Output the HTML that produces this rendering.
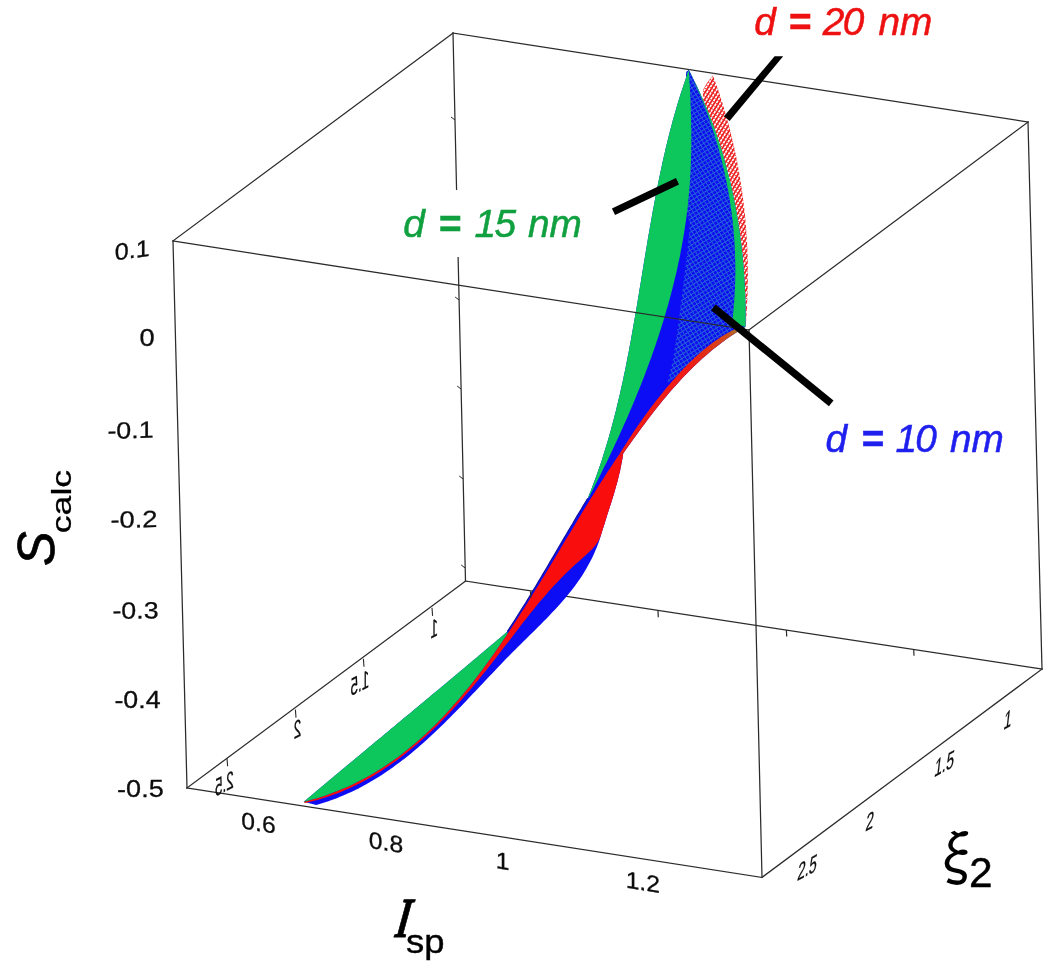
<!DOCTYPE html>
<html lang="en">
<head>
<meta charset="utf-8">
<title>S_calc vs I_sp and xi_2</title>
<style>html,body{margin:0;padding:0;background:#fff}svg{display:block}</style>
</head>
<body>
<svg width="1050" height="968" viewBox="0 0 1050 968" role="img" aria-label="3D plot of S calc versus I sp and xi 2">
<defs>
<pattern id="hb" width="3.8" height="3.8" patternUnits="userSpaceOnUse" patternTransform="rotate(-32)">
<rect width="3.8" height="3.8" fill="#0a0af0"/>
<rect width="3.8" height="0.95" fill="#2a66d6"/>
<rect width="0.95" height="3.8" fill="#2660da"/>
</pattern>
<pattern id="hr" width="3.4" height="3.4" patternUnits="userSpaceOnUse" patternTransform="rotate(32)">
<rect width="3.4" height="3.4" fill="#fff"/>
<rect width="1.7" height="3.4" fill="#ec1c1c"/>
<rect width="3.4" height="0.9" fill="#ee3a3a"/>
</pattern>
<linearGradient id="band" gradientUnits="userSpaceOnUse" x1="746" y1="327" x2="690" y2="372">
<stop offset="0" stop-color="#8f8a2c"/><stop offset="0.3" stop-color="#d2481c"/><stop offset="1" stop-color="#f01a12"/>
</linearGradient>
<filter id="soft" x="-5%" y="-5%" width="110%" height="110%"><feGaussianBlur stdDeviation="0.45"/></filter>
</defs>
<rect width="1050" height="968" fill="#fff"/>
<g fill="none" stroke-linecap="square">
<line x1="453.0" y1="33.0" x2="465.5" y2="581.0" stroke="#2b2b2b" stroke-width="1.25" />
<line x1="465.5" y1="581.0" x2="1042.0" y2="669.0" stroke="#2b2b2b" stroke-width="1.25" />
<line x1="187.0" y1="788.0" x2="465.5" y2="581.0" stroke="#2b2b2b" stroke-width="1.25" />
</g>
<g filter="url(#soft)">
<polygon points="712.9,75.2 714.3,79.0 715.7,82.9 717.1,86.7 718.4,90.6 719.7,94.5 720.9,98.4 722.2,102.3 723.4,106.2 724.6,110.1 725.7,114.0 726.8,118.0 727.9,121.9 729.0,125.9 730.0,129.8 731.0,133.8 732.0,137.8 732.9,141.8 733.8,145.8 734.7,149.8 735.5,153.8 736.4,157.8 737.2,161.8 737.9,165.8 738.7,169.9 739.4,173.9 740.1,178.0 740.7,182.0 741.3,186.1 741.9,190.1 742.5,194.2 743.0,198.2 743.5,202.3 744.0,206.4 744.5,210.5 744.9,214.5 745.3,218.6 745.6,222.7 746.0,226.8 746.3,230.9 746.6,235.0 746.8,239.1 747.1,243.2 747.3,247.3 747.4,251.4 747.6,255.5 747.7,259.5 747.8,263.6 747.8,267.7 747.9,271.8 747.9,275.9 747.8,280.0 747.8,284.1 747.7,288.2 747.6,292.3 747.5,296.4 747.3,300.5 747.1,304.6 746.9,308.7 746.7,312.8 746.4,316.8 746.1,320.9 745.8,325.0 745.5,327.0 745.5,322.9 745.6,318.8 745.6,314.8 745.5,310.7 745.5,306.6 745.4,302.5 745.3,298.4 745.2,294.3 745.0,290.2 744.8,286.1 744.6,282.1 744.3,278.0 744.1,273.9 743.8,269.8 743.4,265.7 743.1,261.6 742.7,257.6 742.3,253.5 741.8,249.4 741.4,245.3 740.9,241.3 740.3,237.2 739.8,233.1 739.2,229.1 738.6,225.0 738.0,221.0 737.3,216.9 736.6,212.9 735.9,208.9 735.1,204.8 734.3,200.8 733.5,196.8 732.6,192.8 731.8,188.8 730.8,184.8 729.9,180.8 728.9,176.9 727.9,172.9 726.9,168.9 725.8,165.0 724.7,161.0 723.6,157.1 722.5,153.2 721.3,149.3 720.1,145.4 718.8,141.5 717.5,137.6 716.2,133.7 714.9,129.9 713.5,126.0 712.1,122.2 710.6,118.4 709.1,114.6 707.6,110.8 706.1,107.0 704.5,103.2 702.9,99.5 703.0,90.0 707.0,83.0" fill="url(#hr)" />
<polygon points="688.8,70.0 687.4,73.8 686.1,77.6 684.8,81.5 683.5,85.3 682.2,89.2 680.9,93.0 679.7,96.9 678.5,100.7 677.4,104.6 676.2,108.5 675.1,112.4 674.0,116.2 672.9,120.1 671.9,124.0 670.8,127.9 669.8,131.8 668.8,135.8 667.8,139.7 666.9,143.6 665.9,147.5 665.0,151.5 664.1,155.4 663.2,159.3 662.3,163.3 661.5,167.2 660.6,171.2 659.8,175.2 659.0,179.1 658.2,183.1 657.4,187.0 656.6,191.0 655.8,195.0 655.1,199.0 654.3,202.9 653.6,206.9 652.8,210.9 652.1,214.9 651.4,218.9 650.7,222.9 650.0,226.9 649.3,230.9 648.6,234.8 647.9,238.8 647.3,242.8 646.6,246.8 645.9,250.8 645.3,254.8 644.6,258.8 643.9,262.8 643.3,266.8 642.6,270.8 642.0,274.8 641.3,278.8 640.7,282.8 640.0,286.8 639.3,290.8 638.7,294.8 638.0,298.8 637.4,302.8 636.7,306.8 636.0,310.8 635.3,314.8 634.6,318.8 633.9,322.8 633.2,326.8 632.5,330.8 631.8,334.8 631.1,338.8 630.4,342.7 629.6,346.7 628.9,350.7 628.1,354.7 627.3,358.6 626.6,362.6 625.8,366.6 625.0,370.5 624.1,374.5 623.3,378.4 622.5,382.4 621.6,386.3 620.7,390.3 619.8,394.2 618.9,398.1 618.0,402.1 617.0,406.0 616.1,409.9 615.1,413.8 614.1,417.7 613.1,421.6 612.0,425.5 611.0,429.4 609.9,433.3 608.8,437.2 607.7,441.1 606.5,444.9 605.3,448.8 604.1,452.7 602.9,456.5 601.7,460.4 600.4,464.2 599.1,468.0 597.8,471.8 596.4,475.7 595.0,479.5 593.6,483.3 592.2,487.1 590.7,490.9 589.2,494.6 587.7,498.4 585.5,502.0 583.3,505.6 581.2,509.2 579.0,512.8 576.8,516.4 574.7,520.0 572.6,523.7 570.4,527.3 568.3,530.9 566.2,534.5 564.0,538.1 561.9,541.8 559.8,545.4 557.6,549.0 555.5,552.7 553.4,556.3 551.3,559.9 549.1,563.5 547.0,567.2 544.9,570.8 542.7,574.4 540.6,578.0 538.4,581.6 536.3,585.2 534.1,588.8 531.9,592.4 529.8,596.0 527.6,599.6 525.4,603.2 523.1,606.8 520.9,610.4 518.7,613.9 516.4,617.5 514.2,621.0 511.9,624.6 509.6,628.1 507.3,631.6 504.2,634.2 501.1,636.9 498.0,639.5 494.9,642.2 491.7,644.8 488.6,647.4 485.5,650.1 482.4,652.7 479.3,655.3 476.2,657.9 473.0,660.6 469.9,663.2 466.8,665.8 463.7,668.4 460.5,671.1 457.4,673.7 454.3,676.3 451.1,678.9 448.0,681.5 444.9,684.2 441.7,686.8 438.6,689.4 435.5,692.0 432.3,694.6 429.2,697.2 426.1,699.8 422.9,702.5 419.8,705.1 416.6,707.7 413.5,710.3 410.4,712.9 407.2,715.5 404.1,718.1 400.9,720.7 397.8,723.3 394.7,726.0 391.5,728.6 388.4,731.2 385.2,733.8 382.1,736.4 379.0,739.0 375.8,741.6 372.7,744.2 369.5,746.8 366.4,749.4 363.3,752.1 360.1,754.7 357.0,757.3 353.8,759.9 350.7,762.5 347.6,765.1 344.4,767.7 341.3,770.3 338.2,773.0 335.0,775.6 331.9,778.2 328.7,780.8 325.6,783.4 322.5,786.1 319.3,788.7 316.2,791.3 313.1,793.9 310.0,796.5 306.8,799.2 303.7,801.8 316.3,805.0 316.3,805.0 320.4,803.8 324.4,802.5 328.4,801.2 332.3,799.8 336.2,798.4 340.0,796.8 343.8,795.3 347.6,793.6 351.3,791.9 354.9,790.2 358.5,788.4 362.1,786.5 365.7,784.6 369.2,782.6 372.6,780.6 376.0,778.5 379.4,776.4 382.8,774.2 386.1,772.0 389.4,769.8 392.7,767.5 395.9,765.1 399.1,762.7 402.3,760.3 405.4,757.9 408.5,755.4 411.6,752.9 414.7,750.3 417.8,747.7 420.8,745.1 423.8,742.4 426.8,739.8 429.7,737.0 432.7,734.3 435.6,731.6 438.5,728.8 441.4,726.0 444.3,723.2 447.2,720.3 450.0,717.5 452.9,714.6 455.7,711.7 458.6,708.8 461.4,705.9 464.2,703.0 467.0,700.0 469.8,697.1 472.6,694.1 475.4,691.2 478.2,688.2 481.0,685.2 483.8,682.3 486.6,679.3 489.4,676.3 492.2,673.4 495.0,670.4 497.8,667.5 500.7,664.5 503.5,661.6 506.3,658.6 509.2,655.7 512.0,652.8 514.9,649.9 517.8,647.0 520.7,644.2 523.6,641.3 526.5,638.4 529.4,635.6 532.3,632.7 535.1,629.9 538.0,627.0 540.9,624.2 543.7,621.3 546.6,618.4 549.4,615.5 552.1,612.6 554.9,609.7 557.6,606.7 560.3,603.7 562.9,600.7 565.5,597.7 568.1,594.6 570.6,591.5 573.0,588.4 575.4,585.2 577.7,582.0 580.0,578.7 582.2,575.4 584.3,572.0 586.4,568.6 588.3,565.1 590.2,561.6 592.1,558.0 593.8,554.3 595.4,550.6 597.0,546.8 598.4,543.0 599.8,539.0 601.0,535.0 601.0,535.0 602.2,531.0 603.5,526.9 604.8,522.9 606.0,518.9 607.3,514.8 608.6,510.8 609.9,506.8 611.2,502.7 612.4,498.7 613.7,494.7 614.9,490.6 616.0,486.6 617.2,482.5 618.2,478.4 619.2,474.3 620.2,470.2 621.0,466.0 621.8,461.9 622.6,457.7 623.2,453.5 623.2,453.5 625.6,450.1 627.9,446.8 630.3,443.4 632.7,440.1 635.1,436.7 637.5,433.4 640.0,430.0 642.4,426.7 644.9,423.4 647.4,420.1 649.9,416.8 652.4,413.5 654.9,410.3 657.5,407.0 660.1,403.8 662.7,400.6 665.3,397.4 668.0,394.2 670.7,391.1 673.4,388.0 676.2,384.9 678.9,381.9 681.7,378.8 684.6,375.8 687.4,372.9 690.3,370.0 693.3,367.1 696.2,364.2 699.2,361.4 702.3,358.6 705.4,355.9 708.5,353.2 711.6,350.6 714.8,348.0 718.1,345.5 721.3,343.0 724.6,340.5 728.0,338.1 731.4,335.8 734.9,333.5 738.4,331.3 741.9,329.1 745.5,327.0 745.5,327.0 745.5,322.9 745.6,318.8 745.6,314.8 745.5,310.7 745.5,306.6 745.4,302.5 745.3,298.4 745.2,294.3 745.0,290.2 744.8,286.1 744.6,282.1 744.3,278.0 744.1,273.9 743.8,269.8 743.4,265.7 743.1,261.6 742.7,257.6 742.3,253.5 741.8,249.4 741.4,245.3 740.9,241.3 740.3,237.2 739.8,233.1 739.2,229.1 738.6,225.0 738.0,221.0 737.3,216.9 736.6,212.9 735.9,208.9 735.1,204.8 734.3,200.8 733.5,196.8 732.6,192.8 731.8,188.8 730.8,184.8 729.9,180.8 728.9,176.9 727.9,172.9 726.9,168.9 725.8,165.0 724.7,161.0 723.6,157.1 722.5,153.2 721.3,149.3 720.1,145.4 718.8,141.5 717.5,137.6 716.2,133.7 714.9,129.9 713.5,126.0 712.1,122.2 710.6,118.4 709.1,114.6 707.6,110.8 706.1,107.0 704.5,103.2 702.9,99.5 701.2,95.8 699.6,92.0 697.9,88.3 696.1,84.6 694.3,80.9 692.5,77.3 690.7,73.6 688.8,70.0" fill="#0a0af5" />
<polygon points="686.0,72.0 686.0,130.0 686.0,180.0 687.0,215.0 690.0,222.0 687.5,250.0 684.4,275.0 680.5,306.0 676.5,337.0 672.5,362.0 667.0,384.0 684.0,369.5 697.0,356.0 710.0,343.5 722.0,336.0 735.0,329.0 732.0,323.0 732.5,318.9 732.9,314.9 733.4,310.8 733.7,306.8 734.1,302.7 734.3,298.6 734.6,294.6 734.8,290.5 735.0,286.4 735.1,282.4 735.2,278.3 735.3,274.2 735.3,270.2 735.3,266.1 735.2,262.0 735.1,258.0 735.0,253.9 734.8,249.9 734.6,245.8 734.4,241.8 734.1,237.7 733.8,233.7 733.4,229.6 733.0,225.6 732.6,221.5 732.2,217.5 731.7,213.5 731.1,209.4 730.5,205.4 729.9,201.4 729.3,197.4 728.6,193.4 727.9,189.4 727.1,185.4 726.4,181.4 725.5,177.4 724.7,173.5 723.8,169.5 722.9,165.5 721.9,161.6 720.9,157.7 719.9,153.7 718.8,149.8 717.7,145.9 716.6,142.0 715.4,138.1 714.2,134.2 713.0,130.3 711.7,126.5 710.4,122.6 709.1,118.8 707.7,115.0 706.3,111.1 704.9,107.3 703.4,103.5 701.9,99.8 700.4,96.0 698.8,92.2 697.2,88.5 695.6,84.8 694.0,81.1 692.3,77.4 690.5,73.7 688.8,70.0" fill="url(#hb)" />
<polygon points="688.8,70.0 687.4,73.8 686.1,77.6 684.8,81.5 683.5,85.3 682.2,89.2 680.9,93.0 679.7,96.9 678.5,100.7 677.4,104.6 676.2,108.5 675.1,112.4 674.0,116.2 672.9,120.1 671.9,124.0 670.8,127.9 669.8,131.8 668.8,135.8 667.8,139.7 666.9,143.6 665.9,147.5 665.0,151.5 664.1,155.4 663.2,159.3 662.3,163.3 661.5,167.2 660.6,171.2 659.8,175.2 659.0,179.1 658.2,183.1 657.4,187.0 656.6,191.0 655.8,195.0 655.1,199.0 654.3,202.9 653.6,206.9 652.8,210.9 652.1,214.9 651.4,218.9 650.7,222.9 650.0,226.9 649.3,230.9 648.6,234.8 647.9,238.8 647.3,242.8 646.6,246.8 645.9,250.8 645.3,254.8 644.6,258.8 643.9,262.8 643.3,266.8 642.6,270.8 642.0,274.8 641.3,278.8 640.7,282.8 640.0,286.8 639.3,290.8 638.7,294.8 638.0,298.8 637.4,302.8 636.7,306.8 636.0,310.8 635.3,314.8 634.6,318.8 633.9,322.8 633.2,326.8 632.5,330.8 631.8,334.8 631.1,338.8 630.4,342.7 629.6,346.7 628.9,350.7 628.1,354.7 627.3,358.6 626.6,362.6 625.8,366.6 625.0,370.5 624.1,374.5 623.3,378.4 622.5,382.4 621.6,386.3 620.7,390.3 619.8,394.2 618.9,398.1 618.0,402.1 617.0,406.0 616.1,409.9 615.1,413.8 614.1,417.7 613.1,421.6 612.0,425.5 611.0,429.4 609.9,433.3 608.8,437.2 607.7,441.1 606.5,444.9 605.3,448.8 604.1,452.7 602.9,456.5 601.7,460.4 600.4,464.2 599.1,468.0 597.8,471.8 596.4,475.7 595.0,479.5 593.6,483.3 592.2,487.1 590.7,490.9 589.2,494.6 587.7,498.4 589.2,496.9 591.0,493.3 592.9,489.8 594.7,486.2 596.5,482.6 598.3,479.0 600.1,475.4 601.9,471.7 603.7,468.1 605.5,464.5 607.3,460.9 609.0,457.2 610.8,453.6 612.5,449.9 614.2,446.2 615.9,442.6 617.6,438.9 619.3,435.2 621.0,431.5 622.7,427.8 624.3,424.1 626.0,420.4 627.6,416.7 629.2,413.0 630.8,409.2 632.4,405.5 634.0,401.8 635.5,398.0 637.0,394.3 638.6,390.5 640.1,386.7 641.6,382.9 643.1,379.2 644.5,375.4 646.0,371.6 647.4,367.8 648.8,364.0 650.2,360.2 651.6,356.4 652.9,352.5 654.3,348.7 655.6,344.9 656.9,341.0 658.2,337.2 659.4,333.3 660.7,329.5 661.9,325.6 663.1,321.7 664.3,317.9 665.4,314.0 666.5,310.1 667.7,306.2 668.8,302.3 669.8,298.4 670.9,294.5 671.9,290.6 672.9,286.7 673.9,282.8 674.8,278.8 675.8,274.9 676.7,271.0 677.6,267.0 678.4,263.1 679.3,259.1 680.1,255.2 680.8,251.2 681.6,247.3 682.3,243.3 683.0,239.3 683.7,235.3 684.3,231.4 684.9,227.4 685.5,223.4 686.1,219.4 686.6,215.4 687.1,211.4 687.6,207.4 688.0,203.4 688.4,199.4 688.8,195.4 689.2,191.3 689.5,187.3 689.8,183.3 690.1,179.3 690.3,175.2 690.5,171.2 690.7,167.2 690.9,163.1 691.0,159.1 691.1,155.1 691.2,151.0 691.3,147.0 691.3,142.9 691.3,138.9 691.3,134.8 691.3,130.8 691.2,126.7 691.2,122.7 691.1,118.6 691.0,114.6 690.8,110.5 690.7,106.5 690.5,102.4 690.4,98.4 690.2,94.3 690.0,90.3 689.8,86.2 689.5,82.1 689.3,78.1 689.1,74.0 688.8,70.0" fill="#0ac65c" />
<polygon points="688.8,70.0 690.5,73.7 692.3,77.4 694.0,81.1 695.6,84.8 697.2,88.5 698.8,92.2 700.4,96.0 701.9,99.8 703.4,103.5 704.9,107.3 706.3,111.1 707.7,115.0 709.1,118.8 710.4,122.6 711.7,126.5 713.0,130.3 714.2,134.2 715.4,138.1 716.6,142.0 717.7,145.9 718.8,149.8 719.9,153.7 720.9,157.7 721.9,161.6 722.9,165.5 723.8,169.5 724.7,173.5 725.5,177.4 726.4,181.4 727.1,185.4 727.9,189.4 728.6,193.4 729.3,197.4 729.9,201.4 730.5,205.4 731.1,209.4 731.7,213.5 732.2,217.5 732.6,221.5 733.0,225.6 733.4,229.6 733.8,233.7 734.1,237.7 734.4,241.8 734.6,245.8 734.8,249.9 735.0,253.9 735.1,258.0 735.2,262.0 735.3,266.1 735.3,270.2 735.3,274.2 735.2,278.3 735.1,282.4 735.0,286.4 734.8,290.5 734.6,294.6 734.3,298.6 734.1,302.7 733.7,306.8 733.4,310.8 732.9,314.9 732.5,318.9 732.0,323.0 745.5,327.0 745.5,322.9 745.6,318.8 745.6,314.8 745.5,310.7 745.5,306.6 745.4,302.5 745.3,298.4 745.2,294.3 745.0,290.2 744.8,286.1 744.6,282.1 744.3,278.0 744.1,273.9 743.8,269.8 743.4,265.7 743.1,261.6 742.7,257.6 742.3,253.5 741.8,249.4 741.4,245.3 740.9,241.3 740.3,237.2 739.8,233.1 739.2,229.1 738.6,225.0 738.0,221.0 737.3,216.9 736.6,212.9 735.9,208.9 735.1,204.8 734.3,200.8 733.5,196.8 732.6,192.8 731.8,188.8 730.8,184.8 729.9,180.8 728.9,176.9 727.9,172.9 726.9,168.9 725.8,165.0 724.7,161.0 723.6,157.1 722.5,153.2 721.3,149.3 720.1,145.4 718.8,141.5 717.5,137.6 716.2,133.7 714.9,129.9 713.5,126.0 712.1,122.2 710.6,118.4 709.1,114.6 707.6,110.8 706.1,107.0 704.5,103.2 702.9,99.5 701.2,95.8 699.6,92.0 697.9,88.3 696.1,84.6 694.3,80.9 692.5,77.3 690.7,73.6 688.8,70.0" fill="#0ac65c" />
<polygon points="745.5,327.0 741.9,329.1 738.4,331.3 734.9,333.5 731.4,335.8 728.0,338.1 724.6,340.5 721.3,343.0 718.1,345.5 714.8,348.0 711.6,350.6 708.5,353.2 705.4,355.9 702.3,358.6 699.2,361.4 696.2,364.2 693.3,367.1 690.3,370.0 687.4,372.9 684.6,375.8 681.7,378.8 678.9,381.9 676.2,384.9 673.4,388.0 670.7,391.1 668.0,394.2 665.3,397.4 662.7,400.6 660.1,403.8 657.5,407.0 654.9,410.3 652.4,413.5 649.9,416.8 647.4,420.1 644.9,423.4 642.4,426.7 640.0,430.0 637.5,433.4 635.1,436.7 632.7,440.1 630.3,443.4 627.9,446.8 625.6,450.1 623.2,453.5 618.8,455.0 621.0,451.5 623.2,448.0 625.5,444.5 627.7,441.0 630.0,437.5 632.2,434.0 634.5,430.6 636.8,427.2 639.1,423.8 641.5,420.4 643.9,417.1 646.3,413.7 648.7,410.4 651.2,407.1 653.6,403.9 656.2,400.6 658.7,397.4 661.3,394.2 663.9,391.0 666.5,387.8 669.2,384.7 671.9,381.5 674.6,378.4 677.4,375.3 680.2,372.3 683.0,369.2 685.9,366.3 688.8,363.3 691.8,360.4 694.8,357.6 697.9,354.8 701.0,352.0 704.1,349.4 707.3,346.8 710.6,344.2 713.9,341.8 717.3,339.4 720.7,337.1 724.2,335.0 727.7,332.9 731.3,330.9 735.0,329.0" fill="url(#band)" />
<polygon points="618.8,455.0 616.6,458.3 614.4,461.6 612.2,465.0 610.0,468.3 607.8,471.6 605.6,475.0 603.4,478.4 601.3,481.8 599.1,485.1 597.0,488.5 594.9,492.0 592.7,495.4 590.6,498.8 588.5,502.2 586.4,505.7 584.3,509.1 582.2,512.6 580.1,516.0 578.0,519.5 575.9,522.9 573.8,526.4 571.7,529.9 569.6,533.4 567.5,536.8 565.4,540.3 563.3,543.8 561.2,547.3 559.2,550.8 557.1,554.3 555.0,557.8 552.9,561.3 550.8,564.7 548.7,568.2 546.6,571.7 544.5,575.2 542.3,578.7 540.2,582.2 538.1,585.7 536.0,589.1 533.8,592.6 531.7,596.1 529.5,599.5 527.4,603.0 525.2,606.4 523.0,609.9 520.8,613.3 518.6,616.8 516.4,620.2 514.2,623.6 512.0,627.0 509.7,630.4 507.5,633.8 505.2,637.2 502.9,640.6 500.6,643.9 498.3,647.3 496.0,650.6 493.7,653.9 491.3,657.3 489.0,660.6 486.6,663.8 484.2,667.1 481.7,670.4 479.3,673.6 476.9,676.8 474.4,680.0 471.9,683.2 469.4,686.4 466.8,689.5 464.3,692.6 461.7,695.7 459.1,698.8 456.5,701.8 453.8,704.8 451.2,707.8 448.5,710.8 445.8,713.7 443.0,716.7 440.3,719.5 437.5,722.4 434.7,725.2 431.8,728.0 429.0,730.8 426.1,733.5 423.1,736.2 420.2,738.8 417.2,741.4 414.2,744.0 411.2,746.6 408.1,749.1 405.0,751.6 401.9,754.0 398.7,756.4 395.5,758.7 392.3,761.0 389.0,763.3 385.7,765.5 382.4,767.7 379.0,769.8 375.6,771.9 372.2,774.0 368.7,775.9 365.2,777.9 361.6,779.8 358.1,781.6 354.4,783.4 350.8,785.2 347.1,786.9 343.3,788.5 339.6,790.1 335.8,791.6 331.9,793.1 328.0,794.5 324.1,795.9 320.1,797.2 316.0,798.4 312.0,799.6 307.9,800.7 303.7,801.8 305.0,803.0 309.2,802.0 313.3,801.0 317.3,799.9 321.4,798.7 325.3,797.5 329.3,796.2 333.2,794.8 337.0,793.4 340.9,791.9 344.6,790.3 348.4,788.7 352.1,787.0 355.8,785.2 359.4,783.4 363.0,781.6 366.5,779.7 370.0,777.7 373.5,775.7 377.0,773.6 380.4,771.5 383.8,769.3 387.1,767.1 390.5,764.8 393.7,762.5 397.0,760.2 400.2,757.8 403.4,755.3 406.6,752.8 409.7,750.3 412.8,747.7 415.9,745.1 419.0,742.5 422.0,739.8 425.0,737.1 428.0,734.3 431.0,731.6 433.9,728.7 436.8,725.9 439.7,723.0 442.5,720.1 445.4,717.2 448.2,714.3 451.0,711.3 453.8,708.3 456.5,705.3 459.2,702.2 462.0,699.2 464.7,696.1 467.3,693.0 470.0,689.9 472.7,686.7 475.3,683.6 477.9,680.4 480.5,677.2 483.1,674.1 485.7,670.9 488.2,667.7 490.8,664.5 493.3,661.2 495.8,658.0 498.3,654.8 500.8,651.6 503.3,648.3 505.8,645.1 508.3,641.9 510.8,638.7 513.2,635.4 515.7,632.2 518.2,629.0 520.6,625.8 523.1,622.6 525.6,619.4 528.1,616.2 530.6,613.1 533.2,609.9 535.7,606.8 538.3,603.6 540.9,600.5 543.5,597.4 546.2,594.4 548.8,591.3 551.6,588.3 554.3,585.3 557.1,582.4 559.9,579.4 562.8,576.5 565.7,573.6 568.6,570.8 571.6,567.9 574.6,565.1 577.6,562.4 580.7,559.7 583.7,557.0 586.7,554.3 589.7,551.6 592.5,548.7 595.1,545.7 597.4,542.4 599.4,538.9 601.0,535.0 601.0,535.0 602.2,531.0 603.5,526.9 604.8,522.9 606.0,518.9 607.3,514.8 608.6,510.8 609.9,506.8 611.2,502.7 612.4,498.7 613.7,494.7 614.9,490.6 616.0,486.6 617.2,482.5 618.2,478.4 619.2,474.3 620.2,470.2 621.0,466.0 621.8,461.9 622.6,457.7 623.2,453.5" fill="#fa0a0a" />
<polygon points="507.3,631.6 504.2,634.2 501.1,636.9 498.0,639.5 494.9,642.2 491.7,644.8 488.6,647.4 485.5,650.1 482.4,652.7 479.3,655.3 476.2,657.9 473.0,660.6 469.9,663.2 466.8,665.8 463.7,668.4 460.5,671.1 457.4,673.7 454.3,676.3 451.1,678.9 448.0,681.5 444.9,684.2 441.7,686.8 438.6,689.4 435.5,692.0 432.3,694.6 429.2,697.2 426.1,699.8 422.9,702.5 419.8,705.1 416.6,707.7 413.5,710.3 410.4,712.9 407.2,715.5 404.1,718.1 400.9,720.7 397.8,723.3 394.7,726.0 391.5,728.6 388.4,731.2 385.2,733.8 382.1,736.4 379.0,739.0 375.8,741.6 372.7,744.2 369.5,746.8 366.4,749.4 363.3,752.1 360.1,754.7 357.0,757.3 353.8,759.9 350.7,762.5 347.6,765.1 344.4,767.7 341.3,770.3 338.2,773.0 335.0,775.6 331.9,778.2 328.7,780.8 325.6,783.4 322.5,786.1 319.3,788.7 316.2,791.3 313.1,793.9 310.0,796.5 306.8,799.2 303.7,801.8 303.7,801.8 307.9,800.7 312.0,799.6 316.0,798.4 320.1,797.2 324.1,795.9 328.0,794.5 331.9,793.1 335.8,791.6 339.6,790.1 343.3,788.5 347.1,786.9 350.8,785.2 354.4,783.4 358.1,781.6 361.6,779.8 365.2,777.9 368.7,775.9 372.2,774.0 375.6,771.9 379.0,769.8 382.4,767.7 385.7,765.5 389.0,763.3 392.3,761.0 395.5,758.7 398.7,756.4 401.9,754.0 405.0,751.6 408.1,749.1 411.2,746.6 414.2,744.0 417.2,741.4 420.2,738.8 423.1,736.2 426.1,733.5 429.0,730.8 431.8,728.0 434.7,725.2 437.5,722.4 440.3,719.5 443.0,716.7 445.8,713.7 448.5,710.8 451.2,707.8 453.8,704.8 456.5,701.8 459.1,698.8 461.7,695.7 464.3,692.6 466.8,689.5 469.4,686.4 471.9,683.2 474.4,680.0 476.9,676.8 479.3,673.6 481.7,670.4 484.2,667.1 486.6,663.8 489.0,660.6 491.3,657.3 493.7,653.9 496.0,650.6 498.3,647.3 500.6,643.9 502.9,640.6 505.2,637.2 507.5,633.8" fill="#0ac65c" />
<polyline points="587.7,498.4 585.5,502.0 583.3,505.6 581.2,509.2 579.0,512.8 576.8,516.4 574.7,520.0 572.6,523.7 570.4,527.3 568.3,530.9 566.2,534.5 564.0,538.1 561.9,541.8 559.8,545.4 557.6,549.0 555.5,552.7 553.4,556.3 551.3,559.9 549.1,563.5 547.0,567.2 544.9,570.8 542.7,574.4 540.6,578.0 538.4,581.6 536.3,585.2 534.1,588.8 531.9,592.4 529.8,596.0 527.6,599.6 525.4,603.2 523.1,606.8 520.9,610.4 518.7,613.9 516.4,617.5 514.2,621.0 511.9,624.6 509.6,628.1 507.3,631.6" fill="none" stroke="#0a0a9a" stroke-width="1.1"/>
</g>
<g fill="none" stroke-linecap="square">
<line x1="173.0" y1="241.0" x2="453.0" y2="33.0" stroke="#2b2b2b" stroke-width="1.25" />
<line x1="453.0" y1="33.0" x2="1028.0" y2="122.0" stroke="#2b2b2b" stroke-width="1.25" />
<line x1="1028.0" y1="122.0" x2="749.0" y2="330.0" stroke="#2b2b2b" stroke-width="1.25" />
<line x1="749.0" y1="330.0" x2="173.0" y2="241.0" stroke="#2b2b2b" stroke-width="1.25" />
<line x1="173.0" y1="241.0" x2="187.0" y2="788.0" stroke="#2b2b2b" stroke-width="1.25" />
<line x1="1028.0" y1="122.0" x2="1042.0" y2="669.0" stroke="#2b2b2b" stroke-width="1.25" />
<line x1="749.0" y1="330.0" x2="762.0" y2="877.4" stroke="#2b2b2b" stroke-width="1.25" />
<line x1="1042.0" y1="669.0" x2="762.0" y2="877.4" stroke="#2b2b2b" stroke-width="1.25" />
<line x1="762.0" y1="877.4" x2="187.0" y2="788.0" stroke="#2b2b2b" stroke-width="1.25" />
</g>
<g>
<line x1="530.5" y1="591.4" x2="530.8" y2="597.9" stroke="#2b2b2b" stroke-width="1.2" />
<line x1="658.0" y1="610.7" x2="658.3" y2="617.2" stroke="#2b2b2b" stroke-width="1.2" />
<line x1="786.4" y1="630.0" x2="786.7" y2="636.5" stroke="#2b2b2b" stroke-width="1.2" />
<line x1="913.7" y1="649.3" x2="914.0" y2="655.8" stroke="#2b2b2b" stroke-width="1.2" />
<line x1="227.0" y1="758.2" x2="227.6" y2="766.2" stroke="#2b2b2b" stroke-width="1.1" />
<line x1="295.4" y1="709.6" x2="296.0" y2="717.6" stroke="#2b2b2b" stroke-width="1.1" />
<line x1="363.4" y1="658.8" x2="364.0" y2="666.8" stroke="#2b2b2b" stroke-width="1.1" />
<line x1="432.0" y1="607.9" x2="432.6" y2="615.9" stroke="#2b2b2b" stroke-width="1.1" />
<line x1="455.0" y1="120.0" x2="451.0" y2="117.0" stroke="#2b2b2b" stroke-width="1.0" />
<line x1="457.0" y1="210.0" x2="453.0" y2="207.0" stroke="#2b2b2b" stroke-width="1.0" />
<line x1="459.1" y1="300.0" x2="455.1" y2="297.0" stroke="#2b2b2b" stroke-width="1.0" />
<line x1="461.1" y1="389.0" x2="457.1" y2="386.0" stroke="#2b2b2b" stroke-width="1.0" />
<line x1="463.2" y1="479.0" x2="459.2" y2="476.0" stroke="#2b2b2b" stroke-width="1.0" />
<line x1="465.2" y1="568.0" x2="461.2" y2="565.0" stroke="#2b2b2b" stroke-width="1.0" />
</g>
<rect x="398" y="190" width="190" height="67" fill="#fff"/>
<g stroke="#000" stroke-width="7.3" stroke-linecap="butt">
<polygon points="774.6,56.3 783.2,56.3 729.6,120.9 724.0,116.2" fill="#000" stroke="none"/>
<line x1="613.5" y1="211.7" x2="677.5" y2="181.2"/>
<line x1="713.3" y1="307.4" x2="831.2" y2="403.4"/>
</g>
<g font-family="'Liberation Sans', Arial, Helvetica, sans-serif">
<text y="35.2" font-size="38.8" font-style="italic" fill="#ee1111" stroke="#ee1111" stroke-width="0.5"><tspan x="754.3">d</tspan> <tspan x="788.2" font-weight='bold'>=</tspan> <tspan x="822.8" letter-spacing='-1.6'>20</tspan> <tspan x="878.4">nm</tspan></text>
<text y="237" font-size="38.8" font-style="italic" fill="#10a040" stroke="#10a040" stroke-width="0.5"><tspan x="403.3">d</tspan> <tspan x="438.2" font-weight='bold'>=</tspan> <tspan x="474.6" letter-spacing='-1.6'>15</tspan> <tspan x="528">nm</tspan></text>
<text y="451.6" font-size="38.8" font-style="italic" fill="#2020ee" stroke="#2020ee" stroke-width="0.5"><tspan x="825.6">d</tspan> <tspan x="861.1" font-weight='bold'>=</tspan> <tspan x="895.4" letter-spacing='-1.6'>10</tspan> <tspan x="950">nm</tspan></text>
<text font-size="23.5" text-anchor="middle" fill="#0d0d0d" stroke="#0d0d0d" stroke-width="0.3" transform="matrix(1.07 -0.15 0 1 132.2 249.7)" y="8.41">0.1</text>
<text font-size="23.5" text-anchor="middle" fill="#0d0d0d" stroke="#0d0d0d" stroke-width="0.3" transform="matrix(1.16 0.0 0 1 147.1 337.4)" y="8.41">0</text>
<text font-size="23.5" text-anchor="middle" fill="#0d0d0d" stroke="#0d0d0d" stroke-width="0.3" transform="matrix(1.14 -0.034 0 1 130.5 429.8)" y="8.41">-0.1</text>
<text font-size="23.5" text-anchor="middle" fill="#0d0d0d" stroke="#0d0d0d" stroke-width="0.3" transform="matrix(1.16 -0.023 0 1 134.0 519.0)" y="8.41">-0.2</text>
<text font-size="23.5" text-anchor="middle" fill="#0d0d0d" stroke="#0d0d0d" stroke-width="0.3" transform="matrix(1.14 -0.011 0 1 135.5 610.2)" y="8.41">-0.3</text>
<text font-size="23.5" text-anchor="middle" fill="#0d0d0d" stroke="#0d0d0d" stroke-width="0.3" transform="matrix(1.14 0.0 0 1 137.5 699.5)" y="8.41">-0.4</text>
<text font-size="23.5" text-anchor="middle" fill="#0d0d0d" stroke="#0d0d0d" stroke-width="0.3" transform="matrix(1.15 0.0 0 1 140.4 788.1)" y="8.41">-0.5</text>
<text font-size="23.5" text-anchor="middle" fill="#0d0d0d" stroke="#0d0d0d" stroke-width="0.3" transform="matrix(1.05 0.165 0 1 258.5 822.5)" y="8.41">0.6</text>
<text font-size="23.5" text-anchor="middle" fill="#0d0d0d" stroke="#0d0d0d" stroke-width="0.3" transform="matrix(1.05 0.165 0 1 386.0 842.0)" y="8.41">0.8</text>
<text font-size="23.5" text-anchor="middle" fill="#0d0d0d" stroke="#0d0d0d" stroke-width="0.3" transform="matrix(1.05 0.165 0 1 502.5 860.7)" y="8.41">1</text>
<text font-size="23.5" text-anchor="middle" fill="#0d0d0d" stroke="#0d0d0d" stroke-width="0.3" transform="matrix(1.05 0.165 0 1 642.8 881.9)" y="8.41">1.2</text>
<text font-size="25" text-anchor="middle" fill="#0d0d0d" stroke="#0d0d0d" stroke-width="0.3" transform="matrix(0.56 -0.3 -0.12 1.0 807.5 867.0)" y="8.95">2.5</text>
<text font-size="25" text-anchor="middle" fill="#0d0d0d" stroke="#0d0d0d" stroke-width="0.3" transform="matrix(0.56 -0.3 -0.12 1.0 870.0 820.6)" y="8.95">2</text>
<text font-size="25" text-anchor="middle" fill="#0d0d0d" stroke="#0d0d0d" stroke-width="0.3" transform="matrix(0.56 -0.3 -0.12 1.0 944.6 763.0)" y="8.95">1.5</text>
<text font-size="25" text-anchor="middle" fill="#0d0d0d" stroke="#0d0d0d" stroke-width="0.3" transform="matrix(0.56 -0.3 -0.12 1.0 1007.9 719.0)" y="8.95">1</text>
<text font-size="25" text-anchor="middle" fill="#0d0d0d" stroke="#0d0d0d" stroke-width="0.3" transform="matrix(-0.54 0.27 0.0 1.0 224.4 783.0)" y="8.95">2.5</text>
<text font-size="25" text-anchor="middle" fill="#0d0d0d" stroke="#0d0d0d" stroke-width="0.3" transform="matrix(-0.54 0.27 0.0 1.0 297.6 728.4)" y="8.95">2</text>
<text font-size="25" text-anchor="middle" fill="#0d0d0d" stroke="#0d0d0d" stroke-width="0.3" transform="matrix(-0.54 0.27 0.0 1.0 359.8 682.5)" y="8.95">1.5</text>
<text font-size="25" text-anchor="middle" fill="#0d0d0d" stroke="#0d0d0d" stroke-width="0.3" transform="matrix(-0.54 0.27 0.0 1.0 434.3 628.0)" y="8.95">1</text>
<text transform="translate(54 566) rotate(-90)" fill="#000" stroke="#000" stroke-width="0.7"><tspan font-size="52" font-style="italic">S</tspan><tspan font-size="27.5" dy="17" dx="-2" textLength="63.5" lengthAdjust="spacingAndGlyphs" stroke-width="0.25">calc</tspan></text>
<text transform="translate(394.3 937.3) skewX(-9) scale(0.64 1)" fill="#000" stroke="#000" stroke-width="1" font-family="'Liberation Serif', 'Times New Roman', serif" font-size="57" font-style="italic" font-weight="bold">I</text>
<text x="406" y="952.6" fill="#000" stroke="#000" stroke-width="0.4" font-size="32.5" textLength="38.5" lengthAdjust="spacingAndGlyphs">sp</text>
<text transform="translate(930.4 879.3) scale(0.87 1)" fill="#000" font-family="IPAGothic, 'Liberation Serif', serif" font-size="61.5">ξ</text>
<text x="969" y="887.2" fill="#000" font-size="42.5" stroke="#000" stroke-width="0.4">2</text>
</g>
</svg>
</body>
</html>
